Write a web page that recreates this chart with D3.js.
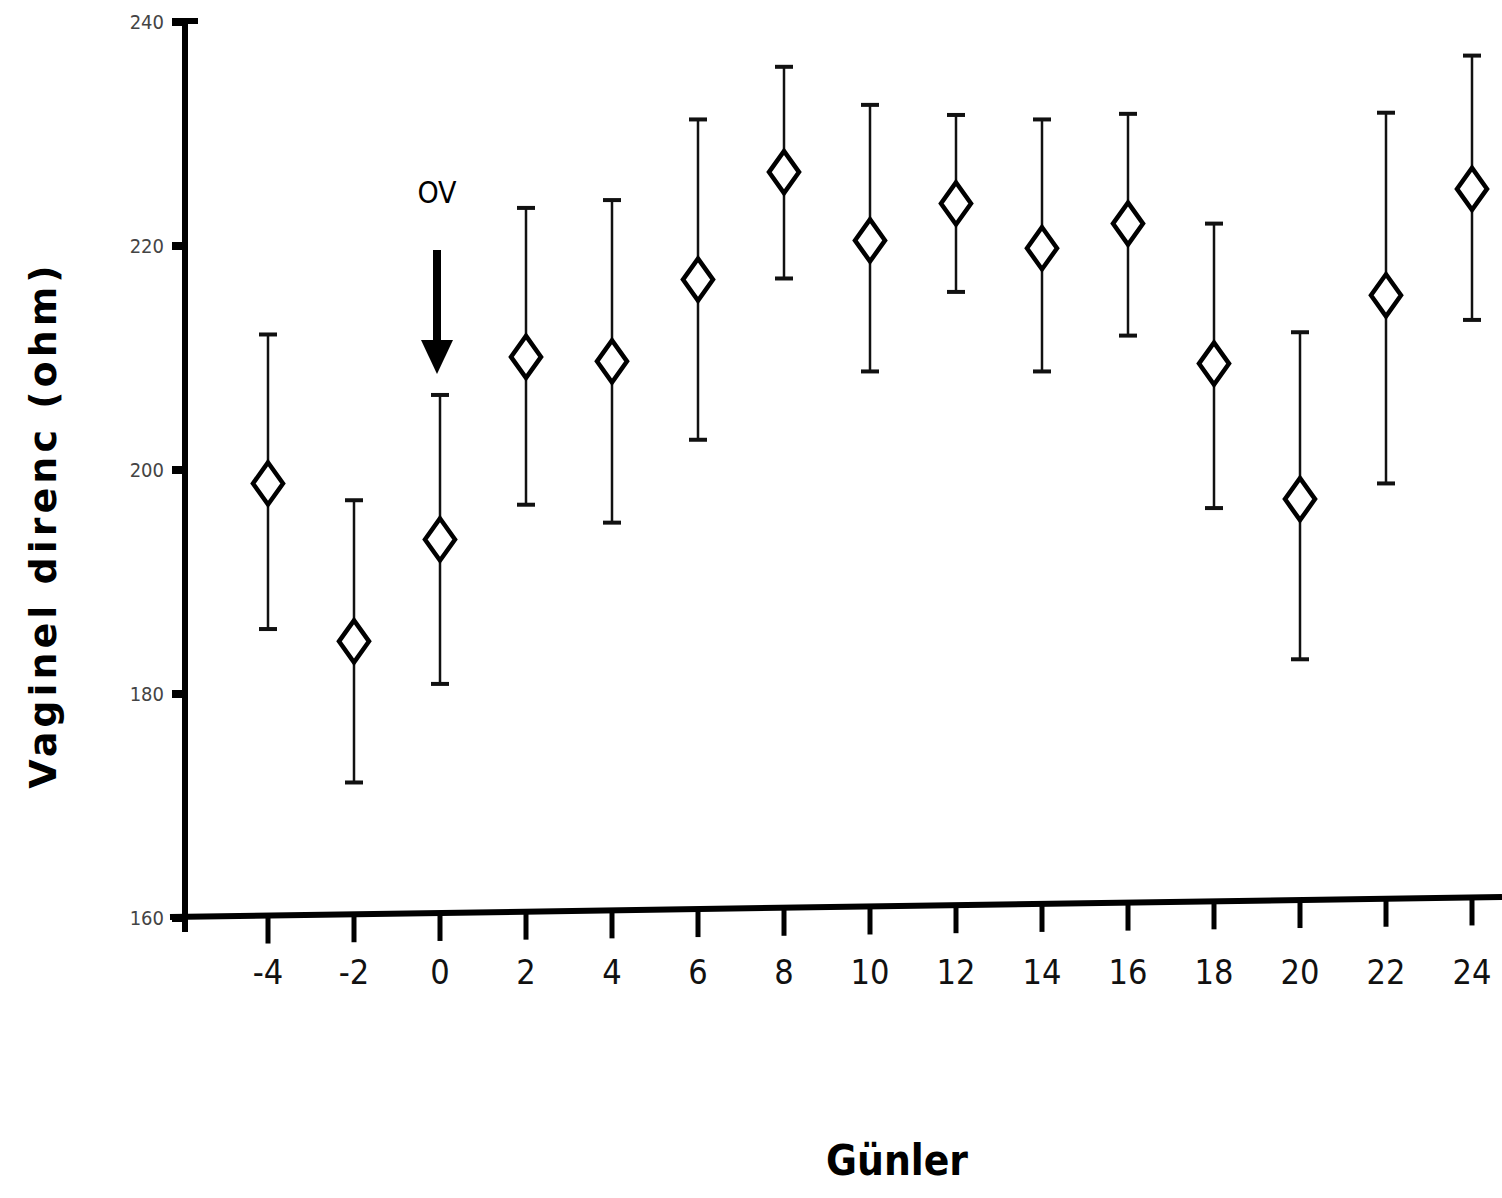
<!DOCTYPE html>
<html>
<head>
<meta charset="utf-8">
<script src="https://cdn.jsdelivr.net/npm/d3@7"></script>
<style>
  body { margin: 0; background: #fff; }
  svg { display: block; }
</style>
</head>
<body>
<svg id="chart"></svg>
<script>
// gün / ortalama / üst-alt hata çubukları
const days = [-4, -2, 0, 2, 4, 6, 8, 10, 12, 14, 16, 18, 20, 22, 24]
const dayLabels = ["-4", "-2", "0", "2", "4", "6", "8", "10", "12", "14", "16", "18", "20", "22", "24"]
const means = [198.8, 184.7, 193.8, 210.1, 209.7, 217.0, 226.6, 220.5, 223.8, 219.8, 222.0, 209.5, 197.4, 215.6, 225.1]
const upper = [212.1, 197.3, 206.7, 223.4, 224.1, 231.3, 236.0, 232.6, 231.7, 231.3, 231.8, 222.0, 212.3, 231.9, 237.0]
const lower = [185.8, 172.1, 180.9, 196.9, 195.3, 202.7, 217.1, 208.8, 215.9, 208.8, 212.0, 196.6, 183.1, 198.8, 213.4]
const yTicks = [160, 180, 200, 220, 240]

const W = 1502, H = 1198
const svg = d3.select("#chart").attr("width", W).attr("height", H)

const x = d3.scaleLinear().domain([-4, 24]).range([268, 1472])
const y = d3.scaleLinear().domain([160, 240]).range([918, 22])

const font = "'DejaVu Sans Condensed', 'DejaVu Sans', sans-serif"

// y ekseni
svg.append("line")
  .attr("x1", 185).attr("x2", 185)
  .attr("y1", 18).attr("y2", 932)
  .attr("stroke", "#000").attr("stroke-width", 6)
svg.append("line")
  .attr("x1", 182).attr("x2", 198)
  .attr("y1", 21).attr("y2", 21)
  .attr("stroke", "#000").attr("stroke-width", 6)

// x ekseni (tarama nedeniyle hafif eğik)
const axisY = px => y(160) - 1 - (px - 170) / (1502 - 170) * 20
svg.append("line")
  .attr("x1", 170).attr("x2", 1502)
  .attr("y1", axisY(170)).attr("y2", axisY(1502))
  .attr("stroke", "#000").attr("stroke-width", 6)

// y tikleri
svg.selectAll(".ytick").data(yTicks).enter().append("line")
  .attr("class", "ytick")
  .attr("x1", 172).attr("x2", 186)
  .attr("y1", d => y(d)).attr("y2", d => y(d))
  .attr("stroke", "#000").attr("stroke-width", 8)

svg.selectAll(".ylab").data(yTicks).enter().append("text")
  .attr("class", "ylab")
  .attr("x", 164).attr("y", d => y(d) + 7)
  .attr("text-anchor", "end")
  .attr("font-family", font).attr("font-size", 20)
  .attr("fill", "#444")
  .text(d => d)

// x tikleri
svg.selectAll(".xtick").data(days).enter().append("line")
  .attr("class", "xtick")
  .attr("x1", d => x(d)).attr("x2", d => x(d))
  .attr("y1", d => axisY(x(d))).attr("y2", d => axisY(x(d)) + 28)
  .attr("stroke", "#000").attr("stroke-width", 5)

svg.selectAll(".xlab").data(days).enter().append("text")
  .attr("class", "xlab")
  .attr("x", d => x(d)).attr("y", 984)
  .attr("text-anchor", "middle")
  .attr("font-family", font).attr("font-size", 34)
  .attr("fill", "#111")
  .text((d, i) => dayLabels[i])

// hata çubukları
const bars = svg.append("g")
days.forEach((d, i) => {
  const cx = x(d)
  bars.append("line")
    .attr("x1", cx).attr("x2", cx)
    .attr("y1", y(upper[i])).attr("y2", y(lower[i]))
    .attr("stroke", "#111").attr("stroke-width", 2.5)
  ;[upper[i], lower[i]].forEach(v => {
    bars.append("line")
      .attr("x1", cx - 9).attr("x2", cx + 9)
      .attr("y1", y(v)).attr("y2", y(v))
      .attr("stroke", "#111").attr("stroke-width", 4)
  })
})

// elmas işaretler
svg.selectAll(".pt").data(days).enter().append("path")
  .attr("class", "pt")
  .attr("transform", (d, i) => `translate(${x(d)},${y(means[i])})`)
  .attr("d", "M0,-21 L15,0 L0,21 L-15,0 Z")
  .attr("fill", "#fff")
  .attr("stroke", "#000").attr("stroke-width", 4.5)

// OV oku
svg.append("text")
  .attr("x", 437).attr("y", 203)
  .attr("text-anchor", "middle")
  .attr("font-family", font).attr("font-size", 30)
  .text("OV")
svg.append("line")
  .attr("x1", 437).attr("x2", 437)
  .attr("y1", 250).attr("y2", 345)
  .attr("stroke", "#000").attr("stroke-width", 8)
svg.append("path")
  .attr("d", "M421,340 L453,340 L437,374 Z")
  .attr("fill", "#000")

// eksen başlıkları
svg.append("text")
  .attr("transform", "translate(56,525) rotate(-90)")
  .attr("text-anchor", "middle")
  .attr("font-family", "'DejaVu Sans', sans-serif")
  .attr("font-weight", "bold")
  .attr("font-size", 38)
  .attr("letter-spacing", 4)
  .text("Vaginel direnc (ohm)")

svg.append("text")
  .attr("x", 897).attr("y", 1175)
  .attr("text-anchor", "middle")
  .attr("font-family", font)
  .attr("font-weight", "bold")
  .attr("font-size", 42)
  .text("Günler")
</script>
</body>
</html>
